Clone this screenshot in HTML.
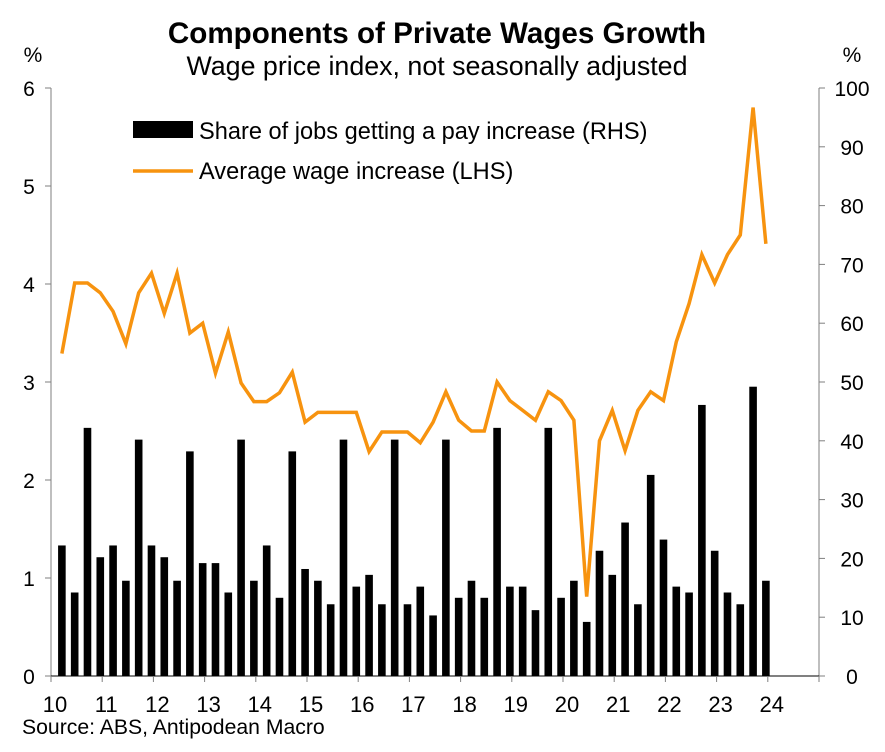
<!DOCTYPE html>
<html><head><meta charset="utf-8"><style>
body{margin:0;background:#fff;font-family:"Liberation Sans",Arial,sans-serif;}
svg text{font-family:"Liberation Sans",Arial,sans-serif;}
</style></head><body>
<svg id="chart" width="885" height="747" viewBox="0 0 885 747" xmlns="http://www.w3.org/2000/svg">
<text x="437" y="43" text-anchor="middle" font-size="29.6" font-weight="bold">Components of Private Wages Growth</text>
<text x="437" y="75" text-anchor="middle" font-size="26.8">Wage price index, not seasonally adjusted</text>
<text x="33" y="62" text-anchor="middle" font-size="21">%</text>
<text x="852" y="62" text-anchor="middle" font-size="21">%</text>
<g id="bars"></g>
<g id="axes"></g>
<g id="line"></g>
<g>
<rect x="133" y="121" width="60" height="17" fill="#000"/>
<text x="199" y="139" font-size="23.6">Share of jobs getting a pay increase (RHS)</text>
<line x1="133" y1="171" x2="193" y2="171" stroke="#f7930f" stroke-width="3.5"/>
<text x="199" y="179" font-size="23.6">Average wage increase (LHS)</text>
</g>
<text x="22" y="734" font-size="21.2">Source: ABS, Antipodean Macro</text>
</svg>
<script>
const years = ["10","11","12","13","14","15","16","17","18","19","20","21","22","23","24"];
const leftTicks = [0,1,2,3,4,5,6];
const rightTicks = [0,10,20,30,40,50,60,70,80,90,100];
const shareJobs = [22.2,14.2,42.2,20.2,22.2,16.2,40.2,22.2,20.2,16.2,38.2,19.2,19.2,14.2,40.2,16.2,22.2,13.3,38.2,18.2,16.2,12.2,40.2,15.2,17.2,12.2,40.2,12.2,15.2,10.3,40.2,13.3,16.2,13.3,42.2,15.2,15.2,11.2,42.2,13.3,16.2,9.2,21.3,17.2,26.1,12.2,34.2,23.2,15.2,14.2,46.1,21.3,14.2,12.2,49.2,16.2];
const avgWage = [3.29,4.01,4.01,3.91,3.72,3.39,3.91,4.11,3.70,4.11,3.50,3.60,3.09,3.51,2.99,2.80,2.80,2.89,3.10,2.59,2.69,2.69,2.69,2.69,2.29,2.49,2.49,2.49,2.38,2.59,2.90,2.61,2.50,2.50,3.00,2.81,2.71,2.61,2.90,2.81,2.61,0.81,2.40,2.71,2.30,2.71,2.90,2.81,3.41,3.80,4.30,4.01,4.30,4.50,5.80,4.41];
const NS="http://www.w3.org/2000/svg";
const X0=51, YEAR=51.2, Y0=676, Y1=88;
const xq = i => X0 + (i+0.85)*YEAR/4;
const yL = v => Y0 - v/6*(Y0-Y1);
const yR = v => Y0 - v/100*(Y0-Y1);
function mk(tag,attrs,parent){const e=document.createElementNS(NS,tag);for(const k in attrs)e.setAttribute(k,attrs[k]);parent.appendChild(e);return e;}
const bars=document.getElementById('bars'), axes=document.getElementById('axes'), line=document.getElementById('line');
shareJobs.forEach((v,i)=>{
  const r=mk('rect',{x:xq(i)-3.8,y:yR(v),width:7.6,height:Y0-yR(v),fill:'#000'},bars);
  
  
});
const c='#7f7f7f';
let a=mk('line',{x1:X0,y1:Y1,x2:X0,y2:Y0,stroke:c,'stroke-width':1},axes);


a=mk('line',{x1:819,y1:Y1,x2:819,y2:Y0,stroke:c,'stroke-width':1},axes);


a=mk('line',{x1:X0,y1:Y0,x2:819,y2:Y0,stroke:'#000','stroke-width':1},axes);


leftTicks.forEach(v=>{
  mk('line',{x1:X0-6,y1:yL(v),x2:X0,y2:yL(v),stroke:c},axes);
  const t=mk('text',{x:29,y:yL(v)+8,'text-anchor':'middle','font-size':21},axes);
  t.textContent=v;
  
  
});
rightTicks.forEach(v=>{
  mk('line',{x1:819,y1:yR(v),x2:825,y2:yR(v),stroke:c},axes);
  const t=mk('text',{x:852,y:yR(v)+8,'text-anchor':'middle','font-size':21},axes);
  t.textContent=v;
  
  
});
for(let k=0;k<=years.length;k++){
  const x=X0+k*YEAR;
  mk('line',{x1:x,y1:Y0,x2:x,y2:Y0+6,stroke:c},axes);
  if(k<years.length){
    const t=mk('text',{x:x+4,y:Y0+36,'text-anchor':'middle','font-size':22},axes);
    t.textContent=years[k];
    
    
  }
}
const p=mk('polyline',{points:avgWage.map((v,i)=>xq(i)+','+yL(v)).join(' '),fill:'none',stroke:'#f7930f','stroke-width':3.5,'stroke-linejoin':'miter'},line);


</script>
</body></html>
